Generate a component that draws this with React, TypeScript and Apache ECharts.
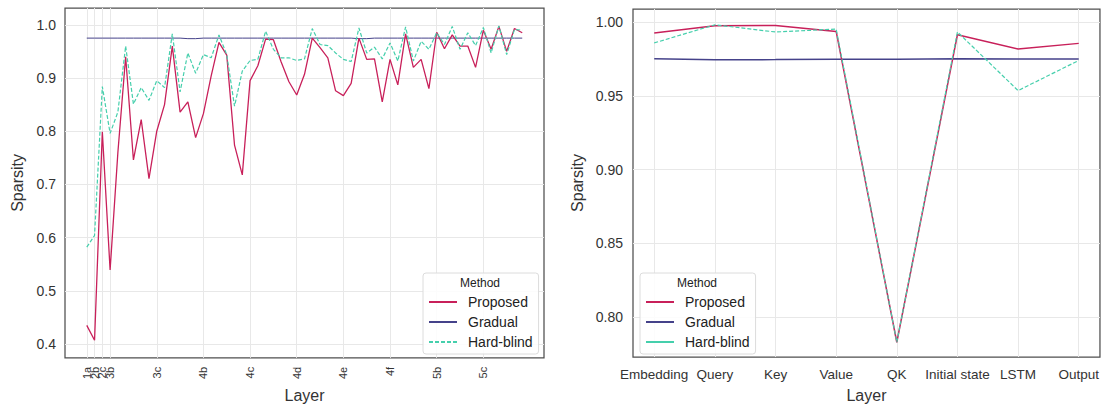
import React, { useEffect, useRef } from 'react';
import * as echarts from 'echarts';

// ---------- Data ----------
const leftTickIndex = [0, 1, 2, 3, 9, 15, 21, 27, 33, 39, 45, 51];
const leftTickLabels = ['1a', '2b', '2c', '3b', '3c', '4b', '4c', '4d', '4e', '4f', '5b', '5c'];

const proposedLeft = [
  0.435, 0.407, 0.799, 0.539, 0.76, 0.94, 0.746, 0.822, 0.711, 0.80,
  0.85, 0.96, 0.836, 0.855, 0.788, 0.833, 0.904, 0.967, 0.943, 0.774,
  0.718, 0.895, 0.923, 0.973, 0.972, 0.93, 0.893, 0.868, 0.907, 0.975,
  0.957, 0.938, 0.876, 0.867, 0.89, 0.975, 0.935, 0.936, 0.855, 0.935,
  0.887, 0.983, 0.92, 0.935, 0.88, 0.986, 0.955, 0.981, 0.96, 0.96,
  0.92, 0.99, 0.954, 0.997, 0.95, 0.993, 0.985,
];
const gradualLeft = [
  0.975, 0.975, 0.975, 0.975, 0.975, 0.975, 0.975, 0.975, 0.975, 0.975,
  0.975, 0.975, 0.975, 0.974, 0.974, 0.975, 0.975, 0.975, 0.975, 0.975,
  0.975, 0.975, 0.975, 0.975, 0.975, 0.975, 0.975, 0.975, 0.975, 0.975,
  0.975, 0.975, 0.975, 0.975, 0.975, 0.974, 0.974, 0.975, 0.975, 0.975,
  0.975, 0.975, 0.975, 0.975, 0.975, 0.975, 0.975, 0.975, 0.975, 0.975,
  0.975, 0.975, 0.975, 0.975, 0.975, 0.975, 0.975,
];
const hardBlindLeft = [
  0.582, 0.604, 0.884, 0.796, 0.836, 0.96, 0.851, 0.882, 0.858, 0.895,
  0.882, 0.983, 0.874, 0.947, 0.909, 0.944, 0.938, 0.981, 0.944, 0.847,
  0.913, 0.933, 0.935, 0.988, 0.954, 0.938, 0.938, 0.933, 0.936, 0.993,
  0.963, 0.961, 0.947, 0.935, 0.931, 0.994, 0.947, 0.958, 0.936, 0.966,
  0.932, 0.996, 0.932, 0.969, 0.954, 0.985, 0.963, 0.997, 0.954, 0.985,
  0.961, 0.995, 0.947, 0.998, 0.944, 0.991, 0.99,
];
const leftYTicks = [0.4, 0.5, 0.6, 0.7, 0.8, 0.9, 1.0];

const rightLayers = ['Embedding', 'Query', 'Key', 'Value', 'QK', 'Initial state', 'LSTM', 'Output'];
const proposedRight = [0.9926, 0.9975, 0.9977, 0.9937, 0.783, 0.9915, 0.9818, 0.9856];
const gradualRight = [0.9752, 0.9745, 0.9746, 0.9749, 0.9748, 0.9751, 0.975, 0.975];
const hardBlindRight = [0.9859, 0.9982, 0.9933, 0.9953, 0.783, 0.9933, 0.9536, 0.974];
const rightYTicks = [0.8, 0.85, 0.9, 0.95, 1.0];

// ---------- Style ----------
const FONT = 'Liberation Sans, Arial, Helvetica, sans-serif';
const C_PROPOSED = '#c8205a';
const C_GRADUAL = '#45428a';
const C_HARD = '#45cfac';
const TEXT = '#333333';
const GRIDLINE = '#e8e8e8';
const FRAME = '#4f4f4f';

const toPairs = (arr: number[]) => arr.map((v, i) => [i, v]);

// The four crowded ticks at the start are split over two label layers
// (ECharts hides a label that overlaps the first one of an axis).
const leftTicksA = leftTickIndex.filter((_, k) => k !== 1 && k !== 3);
const leftTicksB = leftTickIndex.filter((_, k) => k === 1 || k === 3);
const leftLabelOf = (v: number) => {
  const k = leftTickIndex.indexOf(Math.round(v));
  return k >= 0 ? leftTickLabels[k] : '';
};

export default function App() {
  const ref = useRef<HTMLDivElement>(null);

  useEffect(() => {
    if (!ref.current) return;
    const chart = echarts.init(ref.current, null, { renderer: 'svg' });

    const legendCommon = {
      orient: 'vertical' as const,
      itemWidth: 28,
      itemHeight: 14,
      itemGap: 6,
      padding: [22, 6, 5, 5],
      borderColor: '#dcdcdc',
      borderWidth: 1,
      borderRadius: 3,
      backgroundColor: 'rgba(255,255,255,0.85)',
      selectedMode: false,
      lineStyle: { width: 2 },
      itemStyle: { opacity: 0, borderWidth: 0 },
      textStyle: { fontSize: 14, color: '#222', fontFamily: FONT, padding: [0, 0, 0, 6] },
    };

    const leftXLabel = {
      showMinLabel: true, showMaxLabel: true, hideOverlap: false,
      rotate: 90, fontSize: 11, color: TEXT, margin: 9, fontFamily: FONT,
      formatter: leftLabelOf,
    };

    const option: any = {
      animation: false,
      textStyle: { fontFamily: FONT },
      grid: [
        {
          left: 65, top: 8, width: 479, height: 354,
          show: true, borderColor: FRAME, borderWidth: 1.25, backgroundColor: 'transparent',
        },
        {
          left: 633, top: 9, width: 468, height: 351,
          show: true, borderColor: FRAME, borderWidth: 1.25, backgroundColor: 'transparent',
        },
      ],
      xAxis: [
        {
          type: 'value', gridIndex: 0, min: -2.8, max: 58.8, position: 'bottom',
          name: 'Layer', nameLocation: 'middle', nameGap: 28,
          nameTextStyle: { fontSize: 16, color: TEXT, fontFamily: FONT },
          axisLine: { show: false },
          axisTick: { show: false, customValues: leftTicksA },
          axisLabel: { ...leftXLabel, customValues: leftTicksA },
          splitLine: { show: true, lineStyle: { color: GRIDLINE, width: 1 } },
        },
        {
          type: 'value', gridIndex: 0, min: -2.8, max: 58.8, position: 'bottom', offset: 0,
          axisLine: { show: false },
          axisTick: { show: false, customValues: leftTicksB },
          axisLabel: { ...leftXLabel, customValues: leftTicksB },
          splitLine: { show: true, lineStyle: { color: GRIDLINE, width: 1 } },
        },
        {
          type: 'value', gridIndex: 1, min: -0.35, max: 7.35,
          name: 'Layer', nameLocation: 'middle', nameGap: 30,
          nameTextStyle: { fontSize: 16, color: TEXT, fontFamily: FONT },
          axisLine: { show: false },
          axisTick: { show: false, customValues: rightLayers.map((_, i) => i) },
          axisLabel: {
            customValues: rightLayers.map((_, i) => i),
            showMinLabel: true, showMaxLabel: true,
            fontSize: 13.5, color: TEXT, margin: 10, fontFamily: FONT,
            formatter: (v: number) => rightLayers[Math.round(v)] ?? '',
          },
          splitLine: { show: true, lineStyle: { color: GRIDLINE, width: 1 } },
        },
      ],
      yAxis: [
        {
          type: 'value', gridIndex: 0, min: 0.374, max: 1.0316,
          name: 'Sparsity', nameLocation: 'middle', nameGap: 40,
          nameTextStyle: { fontSize: 16, color: TEXT, fontFamily: FONT },
          axisLine: { show: false },
          axisTick: { show: false, customValues: leftYTicks },
          axisLabel: {
            customValues: leftYTicks, fontSize: 14, color: TEXT, margin: 9, fontFamily: FONT,
            showMinLabel: true, showMaxLabel: true,
            formatter: (v: number) => v.toFixed(1),
          },
          splitLine: { show: true, lineStyle: { color: GRIDLINE, width: 1 } },
        },
        {
          type: 'value', gridIndex: 1, min: 0.773, max: 1.0089,
          name: 'Sparsity', nameLocation: 'middle', nameGap: 48,
          nameTextStyle: { fontSize: 16, color: TEXT, fontFamily: FONT },
          axisLine: { show: false },
          axisTick: { show: false, customValues: rightYTicks },
          axisLabel: {
            customValues: rightYTicks, fontSize: 14, color: TEXT, margin: 10, fontFamily: FONT,
            showMinLabel: true, showMaxLabel: true,
            formatter: (v: number) => v.toFixed(2),
          },
          splitLine: { show: true, lineStyle: { color: GRIDLINE, width: 1 } },
        },
      ],
      legend: [
        {
          ...legendCommon, left: 423, top: 273,
          data: ['Proposed', 'Gradual', 'Hard-blind'],
        },
        {
          ...legendCommon, left: 640, top: 273,
          data: [
            { name: 'Proposed' },
            { name: 'Gradual' },
            { name: 'Hard-blind', lineStyle: { type: 'solid' } },
          ],
        },
      ],
      graphic: [
        {
          type: 'text', x: 480, y: 283, z: 100,
          style: {
            text: 'Method', fontSize: 12, fill: '#222', fontFamily: FONT,
            align: 'center', verticalAlign: 'middle', textAlign: 'center', textVerticalAlign: 'middle',
          },
        },
        {
          type: 'text', x: 697, y: 283, z: 100,
          style: {
            text: 'Method', fontSize: 12, fill: '#222', fontFamily: FONT,
            align: 'center', verticalAlign: 'middle', textAlign: 'center', textVerticalAlign: 'middle',
          },
        },
      ],
      series: [
        {
          name: 'Proposed', type: 'line', xAxisIndex: 0, yAxisIndex: 0, symbol: 'none',
          data: toPairs(proposedLeft), lineStyle: { color: C_PROPOSED, width: 1.3 },
          itemStyle: { color: C_PROPOSED }, z: 3,
        },
        {
          name: 'Gradual', type: 'line', xAxisIndex: 0, yAxisIndex: 0, symbol: 'none',
          data: toPairs(gradualLeft), lineStyle: { color: C_GRADUAL, width: 1 },
          itemStyle: { color: C_GRADUAL }, z: 2,
        },
        {
          name: 'Hard-blind', type: 'line', xAxisIndex: 0, yAxisIndex: 0, symbol: 'none',
          data: toPairs(hardBlindLeft), lineStyle: { color: C_HARD, width: 1.2, type: [4, 2] },
          itemStyle: { color: C_HARD }, z: 4,
        },
        {
          name: 'Proposed', type: 'line', xAxisIndex: 2, yAxisIndex: 1, symbol: 'none',
          data: toPairs(proposedRight), lineStyle: { color: C_PROPOSED, width: 1.5 },
          itemStyle: { color: C_PROPOSED }, z: 3,
        },
        {
          name: 'Gradual', type: 'line', xAxisIndex: 2, yAxisIndex: 1, symbol: 'none',
          data: toPairs(gradualRight), lineStyle: { color: C_GRADUAL, width: 1.5 },
          itemStyle: { color: C_GRADUAL }, z: 2,
        },
        {
          name: 'Hard-blind', type: 'line', xAxisIndex: 2, yAxisIndex: 1, symbol: 'none',
          data: toPairs(hardBlindRight), lineStyle: { color: C_HARD, width: 1.2, type: [4, 2] },
          itemStyle: { color: C_HARD }, z: 4,
        },
      ],
    };

    chart.setOption(option);
    return () => chart.dispose();
  }, []);

  return (
    <div
      ref={ref}
      style={{ position: 'absolute', left: 0, top: 0, width: 1102, height: 408 }}
    />
  );
}
